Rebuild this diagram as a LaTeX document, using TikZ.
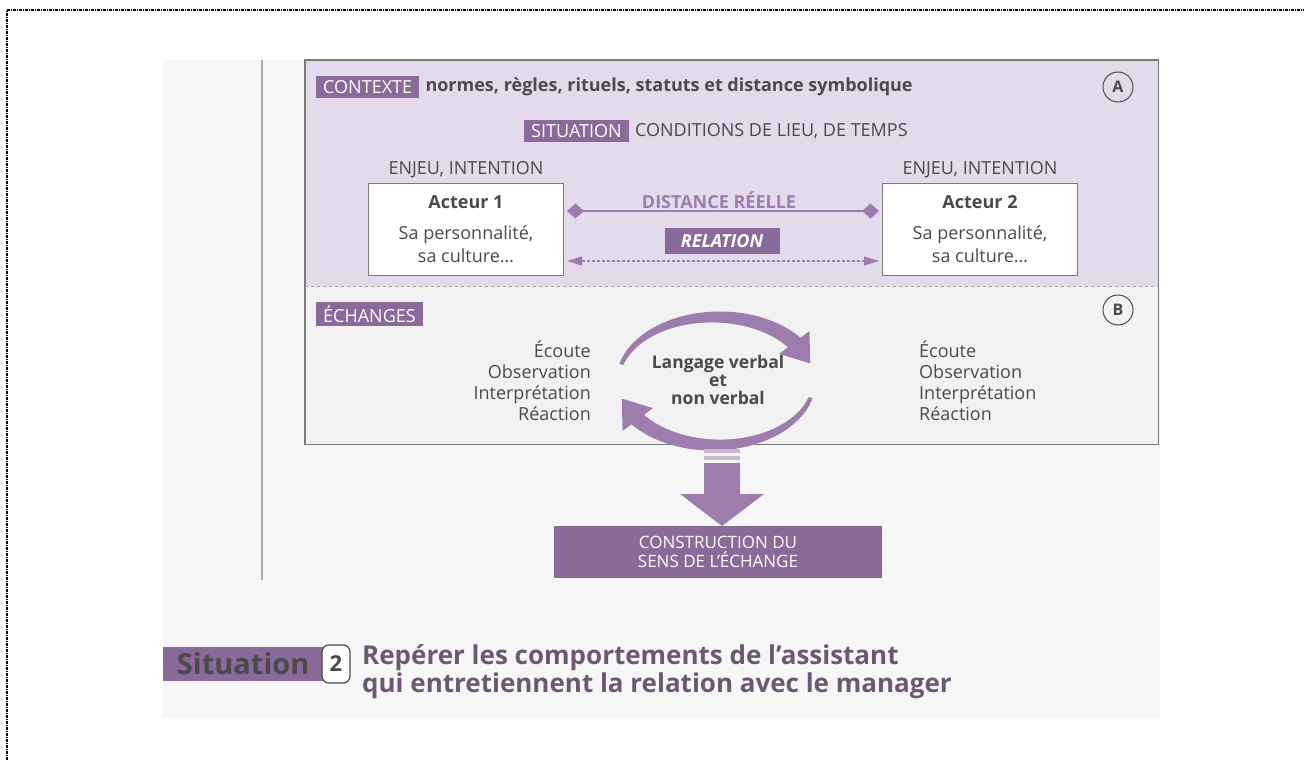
\documentclass[tikz,border=0pt]{standalone}
\usepackage{fontspec}
\setmainfont{Open Sans}
\usetikzlibrary{arrows.meta,shapes.geometric}
\definecolor{pur}{HTML}{8A6A9B}
\definecolor{purl}{HTML}{9C7DAD}
\definecolor{lav}{HTML}{E3DBEB}
\definecolor{txt}{HTML}{4A4A4A}
\definecolor{pagebg}{HTML}{F7F7F7}
\definecolor{secb}{HTML}{F2F2F2}
\definecolor{ttl}{HTML}{6C5873}
\definecolor{frame}{HTML}{7A7A7A}
\tikzset{
  lab/.style={fill=pur, text=white, inner xsep=7pt, inner ysep=4pt, font=\fontsize{18}{20}\selectfont},
  plain/.style={text=txt, inner sep=1pt, font=\fontsize{18}{21}\selectfont},
  boldt/.style={text=txt, inner sep=1pt, font=\fontsize{18}{20}\selectfont\bfseries},
  actbox/.style={draw=frame, line width=1pt, fill=white, minimum width=195pt, minimum height=92pt, align=center, text=txt, font=\fontsize{18}{23}\selectfont},
  letter/.style={circle, draw=txt, line width=1pt, minimum size=30pt, inner sep=0pt, text=txt, font=\fontsize{16}{16}\selectfont\bfseries},
}
\begin{document}
\begin{tikzpicture}[x=1pt,y=-1pt]
\useasboundingbox (0,0) rectangle (1304,760);
% outer dotted frame (top and left only)
\draw[line width=2.5pt, dash pattern=on 3pt off 1pt on 1pt off 1pt] (7,760) -- (7,10) -- (1304,10);
% scanned page
\fill[pagebg] (163,60) rectangle (1160,718);
\draw[gray!65, line width=1.2pt] (262,60) -- (262,580);
% main box sections
\node[fill=lav, minimum width=853pt, minimum height=226pt, inner sep=0pt, anchor=north west] (secA) at (305,60) {};
\node[fill=secb, minimum width=853pt, minimum height=158pt, inner sep=0pt, anchor=north west] (secB) at (305,286) {};
\draw[frame, line width=1.2pt] (secA.north west) rectangle (secB.south east);
\draw[frame, line width=2pt] (secA.north west) -- (secA.north east);
\draw[frame!70, dashed, line width=0.8pt] (secA.south west) -- (secA.south east);
% section A
\node[lab, anchor=west] (ctx) at (316,87) {CONTEXTE};
\node[boldt, anchor=west] (norm) at ([xshift=5pt]ctx.east) {normes, règles, rituels, statuts et distance symbolique};
\node[letter] (A) at (1118,87) {A};
\node[lab, anchor=west] (sit) at (524,131) {SITUATION};
\node[plain, anchor=west] (cond) at ([xshift=5pt]sit.east) {CONDITIONS DE LIEU, DE TEMPS};
\node[actbox] (a1) at (466,229) {\textbf{Acteur 1}\\[8pt]Sa personnalité,\\sa culture…};
\node[actbox] (a2) at (980,229) {\textbf{Acteur 2}\\[8pt]Sa personnalité,\\sa culture…};
\node[plain, anchor=south] (e1) at ([yshift=3pt]a1.north) {ENJEU, INTENTION};
\node[plain, anchor=south] (e2) at ([yshift=3pt]a2.north) {ENJEU, INTENTION};
\node[boldt, text=purl] (dist) at (719,200) {DISTANCE RÉELLE};
\draw[purl, line width=1.6pt, {Diamond[width=15pt,length=17pt]}-{Diamond[width=15pt,length=17pt]}]
  ([shift={(3,-18)}]a1.east) -- ([shift={(-3,-18)}]a2.west);
\node[lab, minimum width=115pt, minimum height=26pt, inner sep=0pt, font=\fontsize{18}{20}\selectfont\itshape\bfseries] (rel) at (722,241) {RELATION};
\draw[purl, line width=1.3pt, densely dashed, {Triangle[width=9pt,length=15pt]}-{Triangle[width=9pt,length=15pt]}]
  ([shift={(3,32)}]a1.east) -- ([shift={(-3,32)}]a2.west);
% section B
\node[lab, anchor=west] (ech) at (316,314) {ÉCHANGES};
\node[letter] (B) at (1118,310) {B};
\node[plain, anchor=east, align=right] (l1) at (592,381) {Écoute\\Observation\\Interprétation\\Réaction};
\node[plain, anchor=west, align=left] (l2) at (918,381) {Écoute\\Observation\\Interprétation\\Réaction};
\node[boldt, align=center, font=\fontsize{17.5}{18}\selectfont\bfseries] (lang) at (718,380) {Langage verbal\\et\\non verbal};
% circular arrows (tapered bodies + heads)
\def\cx{716}\def\cy{381}\def\rx{98}\def\ry{64}
\fill[purl] plot[domain=0:1, samples=40] ({\cx+(\rx+2+6*\x)*cos(165-130*\x)},{\cy-(\ry+2+6*\x)*sin(165-130*\x)})
  -- plot[domain=0:1, samples=40] ({\cx+(\rx-8+6*\x)*cos(35+130*\x)},{\cy-(\ry-8+6*\x)*sin(35+130*\x)}) -- cycle;
\fill[purl] ({\cx+(\rx+19)*cos(37)},{\cy-(\ry+19)*sin(37)}) -- ({\cx+(\rx-19)*cos(37)},{\cy-(\ry-19)*sin(37)})
  -- ({\cx+\rx*cos(16)},{\cy-\ry*sin(16)}) -- cycle;
\fill[purl] plot[domain=0:1, samples=40] ({\cx+(\rx+2+6*\x)*cos(-15-130*\x)},{\cy-(\ry+2+6*\x)*sin(-15-130*\x)})
  -- plot[domain=0:1, samples=40] ({\cx+(\rx-8+6*\x)*cos(-145+130*\x)},{\cy-(\ry-8+6*\x)*sin(-145+130*\x)}) -- cycle;
\fill[purl] ({\cx+(\rx+19)*cos(-143)},{\cy-(\ry+19)*sin(-143)}) -- ({\cx+(\rx-19)*cos(-143)},{\cy-(\ry-19)*sin(-143)})
  -- ({\cx+\rx*cos(-164)},{\cy-\ry*sin(-164)}) -- cycle;
% fat down arrow
\fill[purl!55] (704,449) rectangle (740,453);
\fill[purl!55] (704,456) rectangle (740,460);
\fill[purl] (704,463) -- (740,463) -- (740,494) -- (764,494) -- (722,526) -- (680,494) -- (704,494) -- cycle;
\node[fill=pur, minimum width=328pt, minimum height=52pt, align=center, text=white, inner sep=0pt,
  font=\fontsize{17}{19.5}\selectfont] (cons) at (718,552) {CONSTRUCTION DU\\SENS DE L'ÉCHANGE};
% bottom title
\node[fill=pur, minimum width=160pt, minimum height=34pt, inner sep=0pt, anchor=west, text=txt,
  font=\fontsize{29}{29}\selectfont\bfseries] (sbar) at (163,664) {Situation};
\node[draw=txt, line width=1.2pt, fill=white, rounded corners=7pt, minimum width=28pt, minimum height=38pt,
  inner sep=0pt, text=txt, font=\fontsize{22}{22}\selectfont\bfseries, anchor=west] (num) at ([xshift=-2pt]sbar.east) {2};
\node[anchor=north west, align=left, text=ttl, inner sep=0pt, font=\fontsize{26}{28}\selectfont\bfseries] (title) at (362,644)
  {Repérer les comportements de l'assistant\\qui entretiennent la relation avec le manager};
\end{tikzpicture}
\end{document}
